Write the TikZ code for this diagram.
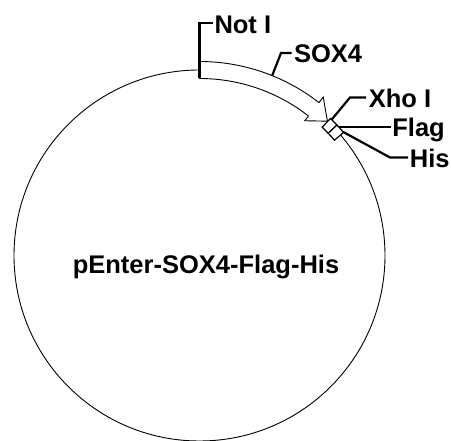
\documentclass[tikz,border=0pt]{standalone}
\usepackage{fontspec}
\setmainfont{Liberation Sans}
\usetikzlibrary{calc}
\begin{document}
\begin{tikzpicture}[x=1pt,y=1pt,
  lbl/.style={font=\bfseries\fontsize{25.5}{30}\selectfont, inner sep=0pt, anchor=base west},
  lead/.style={line width=2.2pt, line join=miter},
  thinline/.style={line width=0.9pt},
  boxline/.style={line width=1.2pt, fill=white}]
\useasboundingbox (0,0) rectangle (451,441);
\fill[white] (0,0) rectangle (451,441);
\coordinate (C) at (199.5,185.5);
\draw[thinline] (C) circle[radius=185.5];
% SOX4 arrow
\draw[thinline, fill=white] ($(C)+(90:194)$) arc[start angle=90,end angle=52,radius=194]
  -- ($(C)+(52:201)$) -- ($(C)+(46.4:185.5)$) -- ($(C)+(52:171)$) -- ($(C)+(52:177)$)
  arc[start angle=52,end angle=90,radius=177] -- cycle;
% Flag and His boxes
\draw[boxline] ($(C)+(46.3:177.5)$) arc[start angle=46.3,end angle=43.5,radius=177.5]
  -- ($(C)+(43.5:189.5)$) arc[start angle=43.5,end angle=46.3,radius=189.5] -- cycle;
\draw[boxline] ($(C)+(43.5:177.5)$) arc[start angle=43.5,end angle=40.5,radius=177.5]
  -- ($(C)+(40.5:189.5)$) arc[start angle=40.5,end angle=43.5,radius=189.5] -- cycle;
% labels
\node[lbl] (noti) at (214.3,407.7) {Not I};
\node[lbl] (sox) at (293.8,378) {SOX4};
\node[lbl] (xho) at (368.7,333.5) {Xho I};
\node[lbl] (flag) at (392.2,304) {Flag};
\node[lbl] (his) at (409.7,273.5) {His};
\node[font=\bfseries\fontsize{25.5}{30}\selectfont, inner sep=0pt, anchor=base] (title) at (206,167.5) {pEnter-SOX4-Flag-His};
% leader coordinates
\coordinate (a1) at ($(C)+(90:177)$);
\coordinate (a2) at (199.5,417.7);
\coordinate (a3) at (213,417.7);
\coordinate (b1) at ($(C)+(68:194)$);
\coordinate (b2) at (281,388);
\coordinate (b3) at (291.5,388);
\coordinate (c1) at ($(C)+(45.8:189.5)$);
\coordinate (c2) at (350,343.5);
\coordinate (c3) at (366,343.5);
\coordinate (d1) at (339,314);
\coordinate (d2) at (391,314);
\coordinate (e1) at ($(C)+(40.7:189.5)$);
\coordinate (e2) at (390,283.5);
\coordinate (e3) at (408,283.5);
\draw[lead] (a1) -- (a2) -- (a3);
\draw[lead] (b1) -- (b2) -- (b3);
\draw[lead] (c1) -- (c2) -- (c3);
\draw[lead] (d1) -- (d2);
\draw[lead] (e1) -- (e2) -- (e3);
\end{tikzpicture}
\end{document}
